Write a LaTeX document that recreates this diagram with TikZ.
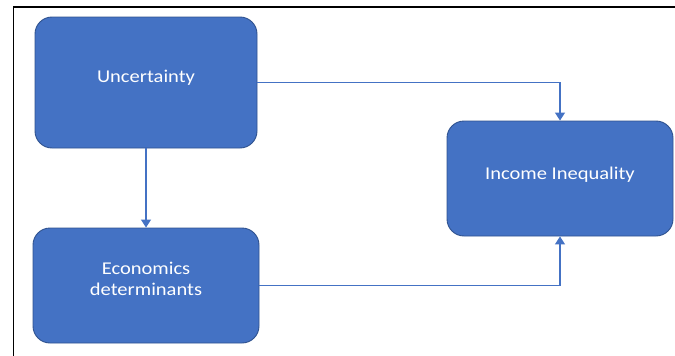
\documentclass[tikz,border=0pt]{standalone}
\usepackage{fontspec}
\setmainfont{Carlito}[FakeStretch=1.14]
\usetikzlibrary{positioning,arrows.meta}
\definecolor{boxblue}{HTML}{4472C4}
\definecolor{boxedge}{HTML}{2F528F}

\begin{document}
\begin{tikzpicture}[x=1pt,y=-1pt,
    box/.style={draw=boxedge,line width=0.9pt,fill=boxblue,rounded corners=17pt,
      text=white,font=\fontsize{18}{21.7}\selectfont,align=center,
      minimum width=222pt,minimum height=128pt,text height=13pt,text depth=13.4pt},
    link/.style={draw=boxblue,line width=1.2pt,-{Triangle[width=10pt,length=8pt]}}]
    \useasboundingbox (0,0) rectangle (675,356);
    \draw[line width=1.3pt] (13.5,356) -- (13.5,7) -- (675,7);
    \node [box,minimum height=131pt] (unc) at (146,82.5) {Uncertainty};
    \node [box,minimum width=226pt,minimum height=115pt,text height=33.4pt,text depth=13pt] (eco) at (146,285.5) {Economics\\determinants};
    \node [box,minimum width=226pt,minimum height=115pt,text depth=10.6pt] (inc) at (560,178.5) {Income Inequality};
    \draw [link] (unc.east) -| (inc.north);
    \draw [link] (unc) -- (eco);
    \draw [link] (eco.east) -| (inc.south);
  \end{tikzpicture}
\end{document}
